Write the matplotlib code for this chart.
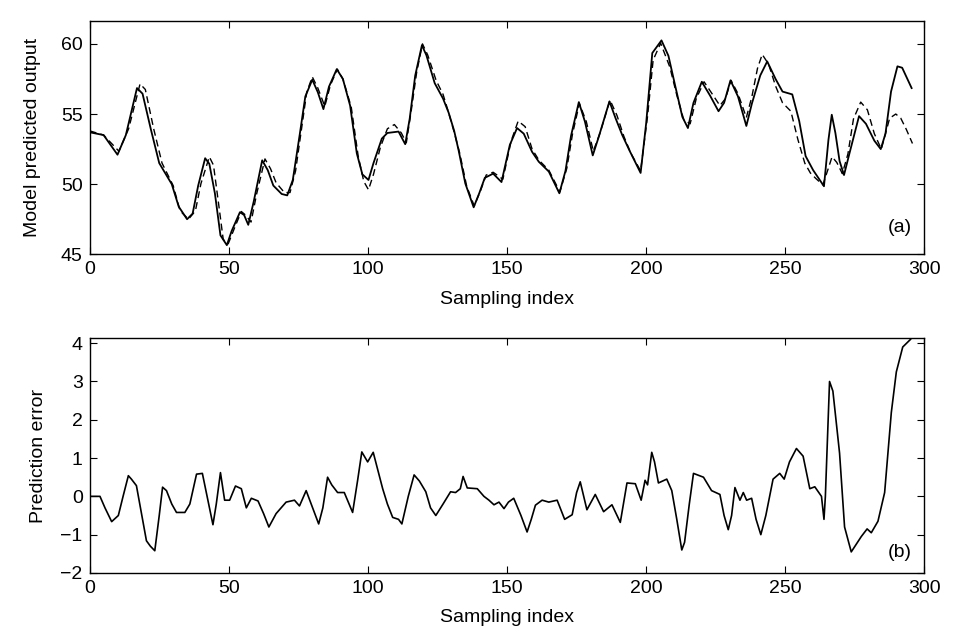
import matplotlib
matplotlib.use("Agg")
import matplotlib.pyplot as plt
import numpy as np

plt.rcParams['font.family'] = ['Liberation Sans', 'DejaVu Sans']

# (a) measured output (solid) and model predicted output (dashed)
x_meas = [0, 5, 10, 13, 17, 19, 22, 25, 29.5, 32, 35, 37, 39, 41.5, 43, 45, 47, 49.3, 51, 54,
          55.5, 57, 59, 62, 64, 66, 69, 71, 73, 75.5, 77.5, 80, 82, 84, 86, 88.8, 91, 93.6, 96, 98,
          100.2, 102, 105, 107, 111, 113.4, 115, 117, 119.4, 121, 124, 127, 129, 131, 132.6, 135, 138, 140, 142, 145,
          148, 151, 153.6, 156, 159, 161.4, 165, 168.8, 171, 173, 175.8, 178, 180.8, 183, 186.8, 189, 191.4, 194, 198, 200,
          202.2, 205.5, 208, 210.5, 213, 215, 217, 220, 223, 226, 228, 230.3, 233, 236, 238, 241, 243.5, 246.5, 249, 252.5,
          255, 257.3, 260, 263.9, 265.5, 266.7, 268, 269.5, 271.1, 273, 276.5, 279, 282, 284.3, 286, 288, 290.3, 292, 295.4]
y_meas = [53.7, 53.5, 52.1, 53.5, 56.85, 56.45, 53.9, 51.5, 50.0, 48.4, 47.5, 47.9, 49.9, 51.85, 51.45, 49.35, 46.35, 45.65, 46.65, 48.0,
          47.8, 47.1, 48.8, 51.7, 51.0, 49.9, 49.3, 49.2, 50.3, 53.55, 56.25, 57.45, 56.55, 55.35, 56.95, 58.2, 57.5, 55.6, 52.2, 50.7,
          50.3, 51.5, 53.25, 53.65, 53.75, 52.85, 54.65, 57.75, 59.9, 59.2, 57.2, 56.1, 55.1, 53.8, 52.4, 50.05, 48.35, 49.35, 50.45, 50.75,
          50.15, 52.8, 54.0, 53.6, 52.3, 51.6, 50.9, 49.35, 50.95, 53.45, 55.85, 54.45, 52.05, 53.4, 55.9, 54.7, 53.5, 52.4, 50.8, 54.35,
          59.35, 60.25, 59.15, 56.95, 54.8, 54.0, 55.8, 57.3, 56.3, 55.2, 55.8, 57.4, 56.25, 54.15, 55.75, 57.75, 58.75, 57.5, 56.6, 56.4,
          54.5, 52.0, 51.0, 49.85, 53.15, 54.95, 53.65, 51.65, 50.65, 52.15, 54.85, 54.3, 53.1, 52.5, 53.6, 56.6, 58.4, 58.3, 56.85]

x_pred = [0, 5, 10.5, 14, 18.1, 20, 23, 26, 30, 32.5, 35.5, 38, 40, 43, 44.5, 46.5, 48, 49.8, 52, 54.5,
          56, 58, 60, 63, 65, 67, 70, 72, 74, 76, 78, 80, 82, 84.5, 86.5, 89, 91, 94, 96.5, 98.5,
          100.2, 102, 104.5, 107, 109.5, 112, 113.8, 115.5, 117.5, 119.6, 121.5, 124.5, 127, 129, 131, 133, 135.5, 138.2, 140.5, 142.5,
          145, 148.5, 151.5, 154, 156.5, 159, 161.5, 165, 169, 171.5, 173.5, 176, 178.5, 181, 183.5, 187, 189.5, 192, 194.5, 198,
          200.5, 202.5, 205.2, 208.5, 211, 213.5, 215.8, 218, 220.8, 223.5, 226.5, 228.5, 230.5, 233, 236, 238, 240, 241.7, 244, 246.5,
          249, 252, 254.5, 257, 259, 261, 263.5, 265.5, 266.8, 268.5, 270.5, 272.5, 274.5, 277.1, 279.5, 282, 284.5, 286, 287.5, 289.7,
          291.5, 293.5, 295.7]
y_pred = [53.8, 53.5, 52.35, 53.95, 57.15, 56.75, 53.95, 51.5, 49.9, 48.1, 47.5, 48.1, 50.05, 51.95, 51.35, 48.35, 46.05, 45.75, 46.85, 48.05,
          47.8, 47.3, 49.3, 51.8, 51.1, 50.1, 49.4, 49.4, 50.95, 53.75, 56.55, 57.65, 56.85, 55.55, 57.05, 58.2, 57.5, 55.5, 52.0, 50.2,
          49.6, 50.7, 52.65, 53.95, 54.25, 53.65, 52.95, 55.15, 57.95, 60.0, 59.2, 57.4, 56.4, 55.1, 53.7, 52.2, 49.85, 48.45, 49.55, 50.65,
          50.85, 50.35, 53.1, 54.5, 54.1, 52.5, 51.7, 51.0, 49.45, 51.15, 53.55, 55.75, 54.45, 52.35, 53.7, 56.0, 54.9, 53.4, 52.2, 50.95,
          54.85, 58.85, 60.05, 58.35, 56.35, 54.6, 54.3, 56.1, 57.3, 56.5, 55.6, 56.1, 57.4, 56.45, 54.75, 56.25, 58.25, 59.25, 58.55, 57.0,
          55.8, 55.2, 53.2, 51.5, 50.8, 50.4, 49.95, 51.15, 51.95, 51.55, 50.75, 52.15, 54.65, 55.85, 55.3, 53.6, 52.5, 53.6, 54.7, 55.0,
          54.7, 53.9, 52.9]

# (b) prediction error
x_err = [0, 3.7, 5.5, 7.9, 10.3, 12, 13.9, 15, 16.8, 18.5, 20.4, 21.8, 23.4, 25, 26.2, 27.6, 29.5, 31.2, 34.2, 36,
         38.4, 40.5, 42.5, 44.3, 45.5, 47.0, 48.5, 50.3, 52.4, 54.5, 56.3, 58.1, 60.5, 62.5, 64.4, 67, 70.6, 73.6, 75.4, 77.8,
         79.6, 82.3, 83.8, 85.5, 87, 89.1, 91.5, 94.5, 96.3, 97.8, 99.9, 101.9, 103.5, 105.3, 107, 108.9, 111, 112.2, 114.5, 116.6,
         118.5, 120.8, 122.5, 124.4, 127, 129.7, 131.5, 133.2, 134.2, 135.7, 139.3, 141.7, 143.5, 145.3, 147.1, 148.9, 150.5, 152.4, 155, 157.2,
         158.7, 160.2, 162.6, 165, 168, 170.7, 173.4, 175, 176.3, 178.7, 181.7, 184.7, 187.7, 190.7, 193.1, 196.1, 198.2, 199.6, 200.5, 202,
         203, 204.4, 207.4, 209.2, 211, 212.8, 213.8, 215.5, 217, 220.6, 223.5, 226.5, 228, 229.5, 230.7, 231.9, 233.7, 234.9, 236.1, 237.9,
         239.5, 241.2, 243, 245.6, 248, 249.6, 251.5, 254, 256.4, 258.8, 260.6, 263, 263.9, 264.4, 265.9, 267.1, 269.5, 271.3, 273.7, 277.3,
         279.4, 280.9, 283.3, 285.7, 288.1, 289.9, 292.2, 294.3, 295]
y_err = [0.0, 0.0, -0.3, -0.66, -0.5, 0.0, 0.54, 0.45, 0.28, -0.4, -1.16, -1.3, -1.42, -0.5, 0.24, 0.15, -0.2, -0.42, -0.42, -0.2,
         0.58, 0.6, -0.1, -0.74, -0.2, 0.62, -0.1, -0.1, 0.27, 0.2, -0.3, -0.05, -0.12, -0.45, -0.8, -0.45, -0.15, -0.1, -0.25, 0.15,
         -0.2, -0.72, -0.3, 0.5, 0.3, 0.1, 0.1, -0.42, 0.42, 1.16, 0.9, 1.15, 0.7, 0.2, -0.2, -0.55, -0.6, -0.72, 0.0, 0.56,
         0.4, 0.12, -0.3, -0.5, -0.2, 0.12, 0.1, 0.2, 0.52, 0.22, 0.2, 0.0, -0.1, -0.22, -0.15, -0.32, -0.15, -0.05, -0.5, -0.93,
         -0.6, -0.23, -0.1, -0.15, -0.1, -0.6, -0.48, 0.1, 0.38, -0.35, 0.05, -0.4, -0.22, -0.68, 0.35, 0.33, -0.1, 0.42, 0.3, 1.15,
         0.9, 0.35, 0.45, 0.15, -0.6, -1.4, -1.2, -0.2, 0.6, 0.5, 0.15, 0.05, -0.5, -0.87, -0.5, 0.23, -0.1, 0.1, -0.1, -0.05,
         -0.6, -1.0, -0.5, 0.45, 0.6, 0.45, 0.9, 1.25, 1.05, 0.2, 0.25, 0.0, -0.6, 0.0, 3.0, 2.75, 1.13, -0.8, -1.45, -1.05,
         -0.85, -0.95, -0.65, 0.1, 2.19, 3.25, 3.9, 4.05, 4.1]

fig = plt.figure(figsize=(9.54, 6.31), dpi=100)
ax1 = fig.add_axes([0.094, 0.597, 0.875, 0.369])
ax2 = fig.add_axes([0.094, 0.092, 0.875, 0.372])

ax1.plot(x_meas, y_meas, 'k-', lw=1.3)
ax1.plot(x_pred, y_pred, 'k--', lw=1.0, dashes=(5, 3))
ax1.set_xlim(0, 300)
ax1.set_ylim(45, 61.6)
ax1.set_yticks([45, 50, 55, 60])
ax1.set_xticks(np.arange(0, 301, 50))
ax1.set_ylabel('Model predicted output', fontsize=14, labelpad=14)
ax1.set_xlabel('Sampling index', fontsize=14, labelpad=9)
ax1.text(0.985, 0.08, '(a)', transform=ax1.transAxes, ha='right', va='bottom', fontsize=14)

ax2.plot(x_err, y_err, 'k-', lw=1.2)
ax2.set_xlim(0, 300)
ax2.set_ylim(-2, 4.13)
ax2.set_yticks([-2, -1, 0, 1, 2, 3, 4])
ax2.set_xticks(np.arange(0, 301, 50))
ax2.set_ylabel('Prediction error', fontsize=14, labelpad=10)
ax2.set_xlabel('Sampling index', fontsize=14, labelpad=9)
ax2.text(0.985, 0.05, '(b)', transform=ax2.transAxes, ha='right', va='bottom', fontsize=14)

for ax in (ax1, ax2):
    ax.tick_params(direction='in', top=True, right=True, length=5, labelsize=14, pad=5)
    for s in ax.spines.values():
        s.set_linewidth(1.0)

fig.savefig('out.png', dpi=100)
